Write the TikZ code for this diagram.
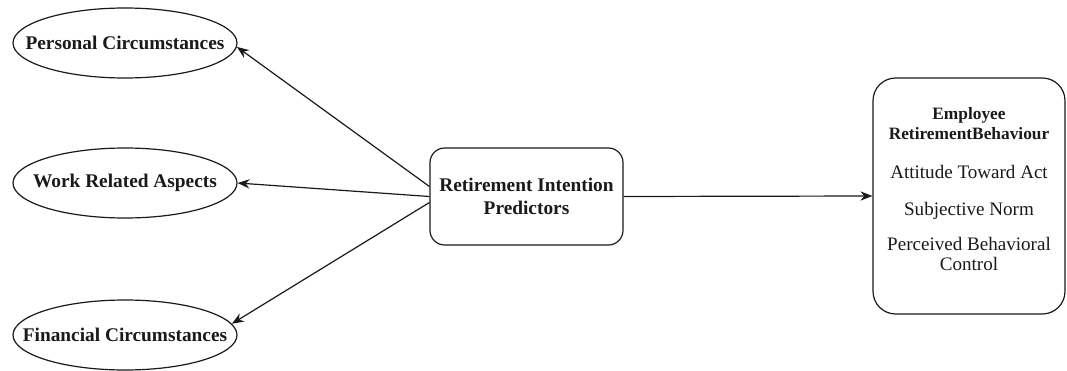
\documentclass[tikz,border=0pt]{standalone}
\usepackage{fontspec}
\setmainfont{Liberation Serif}
\usepackage{xcolor}
\usepackage{tikz}
\usetikzlibrary{arrows.meta,shapes.geometric}
\definecolor{bg}{HTML}{FFFFFF}
\definecolor{ink}{HTML}{1A1A1A}
\newcommand{\headfont}{\fontsize{13}{14.3}\selectfont\bfseries}
\tikzset{
  base/.style={draw=ink, line width=0.9pt, line join=round},
  factor/.style={base, ellipse, minimum width=168pt, minimum height=52.5pt, inner sep=0pt},
  factortext/.style={text=ink, font=\fontsize{14.5}{17.5}\selectfont\bfseries},
  hub/.style={base, rounded corners=11pt, minimum width=144.75pt, minimum height=72.75pt, inner sep=0pt, align=center, text=ink, font=\fontsize{14.5}{17.5}\selectfont\bfseries},
  outbox/.style={base, rounded corners=17pt, minimum width=144pt, minimum height=177pt, inner sep=0pt},
  lab/.style={text=ink, align=center, font=\fontsize{14.3}{15}\selectfont},
  link/.style={draw=ink, line width=0.9pt, -{Stealth[length=9pt, width=7pt]}},
}
\begin{document}
\begin{tikzpicture}[x=0.75pt, y=-0.75pt]
  \fill[bg] (0,0) rectangle (1067,371);
  \useasboundingbox (0,0) rectangle (1067,371);
  \node[factor, label={[factortext]center:Personal Circumstances}] (pers) at (125,43) {};
  \node[factor, label={[factortext]center:Work Related Aspects}] (work) at (125,183) {};
  \node[factor, label={[factortext]center:Financial Circumstances}] (fin) at (125,335) {};
  \node[hub] (pred) at (526.5,196.5) {Retirement Intention\\Predictors};
  \node[outbox] (beh) at (969,196) {};
  \node[lab] (behtxt) at (969,189) {\headfont Employee\\\headfont RetirementBehaviour\\[14pt]
    Attitude Toward Act\\[13pt]Subjective Norm\\[11pt]Perceived Behavioral\\Control};
  \draw[link] ([yshift=7.5pt]pred.west) -- (pers.-2);
  \draw[link] (pred.west) -- (work.east);
  \draw[link] ([yshift=-4.5pt]pred.west) -- (fin.6);
  \draw[link] (pred.east) -- (beh.west);
\end{tikzpicture}
\end{document}
